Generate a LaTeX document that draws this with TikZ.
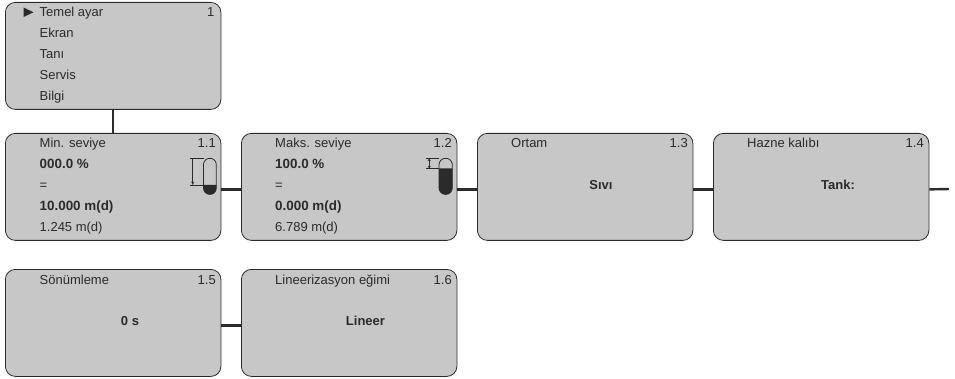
\documentclass[tikz,border=0pt]{standalone}
\usepackage{fontspec}
\setmainfont{Liberation Sans}
\usetikzlibrary{arrows.meta}
\definecolor{panel}{gray}{0.78}
\definecolor{ink}{gray}{0.17}
\tikzset{
  x=1pt,y=-1pt,
  panelbox/.style={draw=ink,line width=0.8pt,fill=panel,rounded corners=10pt,minimum width=215.5pt,minimum height=107pt,inner sep=0pt,anchor=north west},
  plain/.style={inner sep=0pt,text=ink,font=\fontsize{13}{14}\selectfont,anchor=base west},
  strong/.style={plain,font=\fontsize{13.4}{14}\selectfont\bfseries},
  midstrong/.style={strong,anchor=base,font=\fontsize{13}{14}\selectfont\bfseries},
  num/.style={plain,anchor=base east},
  link/.style={draw=ink,line width=2.4pt},
  thin/.style={draw=ink,line width=0.8pt},
}
\begin{document}
\begin{tikzpicture}
\useasboundingbox (0,0) rectangle (955,379);
\node[panelbox] (m1) at (5,2) {};
\node[panelbox] (m11) at (5,133) {};
\node[panelbox] (m12) at (241,133) {};
\node[panelbox] (m13) at (477,133) {};
\node[panelbox] (m14) at (713,133) {};
\node[panelbox] (m15) at (5,269) {};
\node[panelbox] (m16) at (241,269) {};
\coordinate (endstub) at (949,189);
\draw[link] (m1.south) -- (m11.north);
\foreach \a/\b in {m11/m12,m12/m13,m13/m14,m15/m16}
  \draw[link] ([yshift=-2.5pt]\a.east) -- ([yshift=-2.5pt]\b.west);
\draw[link] ([yshift=-2.5pt]m14.east) -- (endstub);
% menu
\node[plain] (t1) at (39.5,17) {Temel ayar};
\node[plain] (t2) at (39.5,38) {Ekran};
\node[plain] (t3) at (39.5,59) {Tanı};
\node[plain] (t4) at (39.5,80) {Servis};
\node[plain] (t5) at (39.5,101) {Bilgi};
\node[num] (n1) at (214.5,17) {1};
\fill[ink] (23.5,7.5) -- (33.5,12.3) -- (23.5,17) -- cycle;
% 1.1
\node[plain] (a1) at (39.5,148) {Min. seviye};
\node[strong] (a2) at (39.5,169) {000.0 \%};
\node[plain] (a3) at (39.5,190) {=};
\node[strong] (a4) at (39.5,211) {10.000 m(d)};
\node[plain] (a5) at (39.5,232) {1.245 m(d)};
\node[num] (n11) at (216,148) {1.1};
% 1.2
\node[plain] (b1) at (275,148) {Maks. seviye};
\node[strong] (b2) at (275,169) {100.0 \%};
\node[plain] (b3) at (275,190) {=};
\node[strong] (b4) at (275,211) {0.000 m(d)};
\node[plain] (b5) at (275,232) {6.789 m(d)};
\node[num] (n12) at (452,148) {1.2};
% 1.3
\node[plain] (c1) at (511,148) {Ortam};
\node[midstrong] (c2) at (601,189.5) {Sıvı};
\node[num] (n13) at (688,148) {1.3};
% 1.4
\node[plain] (d1) at (747,148) {Hazne kalıbı};
\node[midstrong] (d2) at (838,189.5) {Tank:};
\node[num] (n14) at (924,148) {1.4};
% 1.5
\node[plain] (e1) at (39.5,284) {Sönümleme};
\node[midstrong] (e2) at (130,325.5) {0 s};
\node[num] (n15) at (216,284) {1.5};
% 1.6
\node[plain] (f1) at (275,284) {Lineerizasyon eğimi};
\node[midstrong] (f2) at (365.5,325.5) {Lineer};
\node[num] (n16) at (452,284) {1.6};
% tank, min
\fill[ink] (203.5,185) -- (216.3,185) -- (216.3,188) arc[start angle=0,end angle=180,radius=6.4] -- cycle;
\draw[thin,rounded corners=6.3pt] (203.5,194.4) rectangle (216.3,158.3);
\draw[thin] (190,158.5) -- (203.5,158.5);
\draw[thin] (190,185) -- (203.5,185);
\draw[thin,-{Stealth[length=3.5pt,width=3pt]}] (192.7,158.5) -- (192.7,185);
% tank, max
\fill[ink] (439,168.5) -- (452.3,168.5) -- (452.3,187.7) arc[start angle=0,end angle=180,radius=6.65] -- cycle;
\draw[thin,rounded corners=6.5pt] (439,194.4) rectangle (452.3,158.3);
\draw[thin] (426.2,158.5) -- (439,158.5);
\draw[thin] (426.2,168.5) -- (439,168.5);
\draw[thin,{Stealth[length=2.5pt,width=3pt]}-{Stealth[length=2.5pt,width=3pt]}] (429.2,158.5) -- (429.2,168.5);
\end{tikzpicture}
\end{document}
